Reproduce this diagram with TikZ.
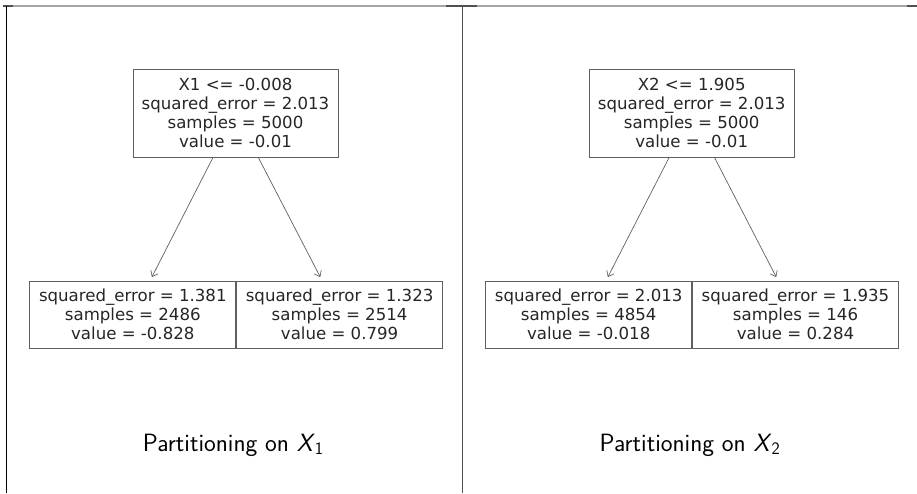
\documentclass[tikz,border=0pt]{standalone}
\usepackage{fontspec}
\newfontfamily\treefont{DejaVu Sans}
\usetikzlibrary{positioning,arrows.meta}
\definecolor{FrameGray}{RGB}{165,165,165}
\definecolor{RuleGray}{RGB}{80,80,80}
\definecolor{BoxGray}{RGB}{95,95,95}
\tikzset{
  split/.style={draw=BoxGray,fill=white,line width=0.8pt,inner sep=0pt,
    minimum width=205pt,minimum height=88pt,align=center,
    font=\treefont\fontsize{16.6}{19}\selectfont,text=black!85},
  leaf/.style={split,minimum width=206pt,minimum height=67pt},
  branch/.style={draw=BoxGray,line width=0.7pt,
    -{Straight Barb[length=5pt,width=8pt]},shorten >=4pt},
  caption/.style={font=\sffamily\fontsize{25}{30}\selectfont},
}

\begin{document}
\begin{tikzpicture}[x=1pt,y=-1pt]
\useasboundingbox (0,0) rectangle (917,493);
% frame
\draw[FrameGray,line width=1.2pt] (3,6) -- (917,6);
\draw[RuleGray,line width=1.4pt] (3,6) -- (13,6);
\draw[RuleGray,line width=1.4pt] (446,6) -- (477,6);
\draw[RuleGray,line width=1.4pt] (907,6) -- (917,6);
\draw[black,line width=0.9pt] (6.5,6) -- (6.5,493);
\draw[RuleGray,line width=1pt] (462.7,6) -- (462.7,493);
% left tree
\node[split] (r1) at (235.5,113.3) {X1 <= -0.008\\squared\_error = 2.013\\samples = 5000\\value = -0.01};
\node[leaf] (a1) at (132.8,314.5) {squared\_error = 1.381\\samples = 2486\\value = -0.828};
\node[leaf,right=0pt of a1] (b1) {squared\_error = 1.323\\samples = 2514\\value = 0.799};
\draw[branch] (r1) -- (a1);
\draw[branch] (r1) -- (b1);
\node[caption] (t1) at (233.3,445) {Partitioning on \textit{X}$_{\mathsf{1}}$};
% right tree
\node[split] (r2) at (691.7,113.3) {X2 <= 1.905\\squared\_error = 2.013\\samples = 5000\\value = -0.01};
\node[leaf] (a2) at (588.7,314.5) {squared\_error = 2.013\\samples = 4854\\value = -0.018};
\node[leaf,right=0pt of a2] (b2) {squared\_error = 1.935\\samples = 146\\value = 0.284};
\draw[branch] (r2) -- (a2);
\draw[branch] (r2) -- (b2);
\node[caption] (t2) at (690,445) {Partitioning on \textit{X}$_{\mathsf{2}}$};
\end{tikzpicture}
\end{document}
